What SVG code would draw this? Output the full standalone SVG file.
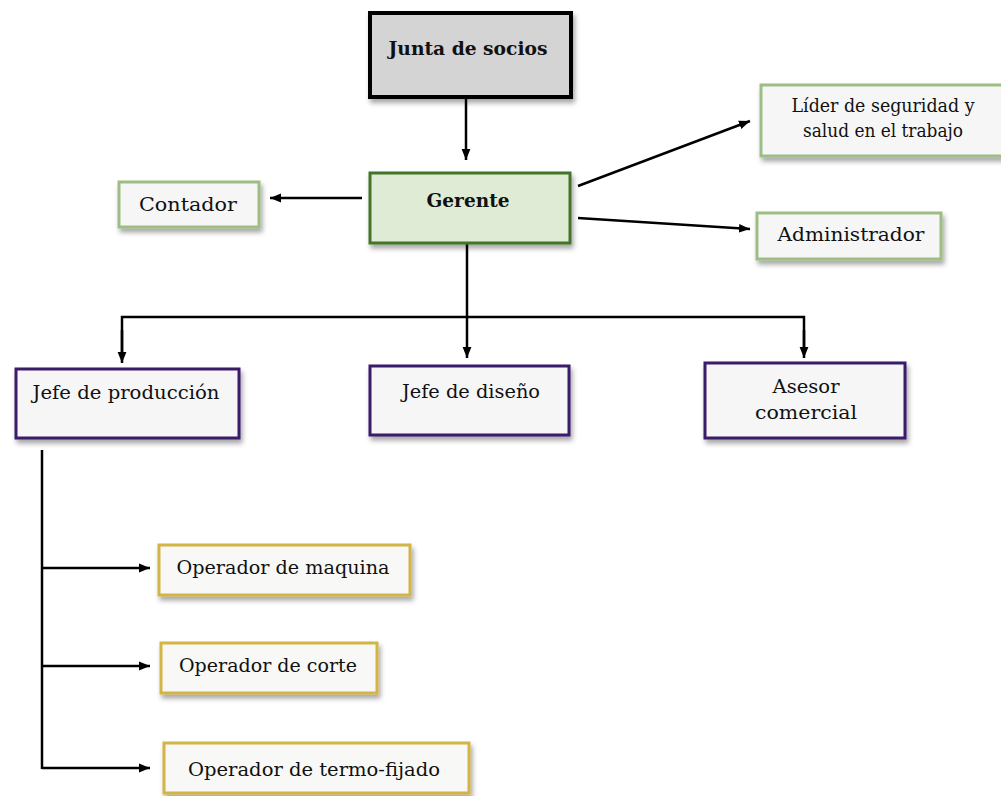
<svg xmlns="http://www.w3.org/2000/svg" width="1001" height="796" viewBox="0 0 1001 796">
<defs>
<filter id="sh" x="-10%" y="-20%" width="130%" height="160%">
<feDropShadow dx="2" dy="4" stdDeviation="2.5" flood-color="#000" flood-opacity="0.35"/>
</filter>
<marker id="ah" viewBox="0 0 10 10" refX="10" refY="5" markerWidth="11" markerHeight="11" markerUnits="userSpaceOnUse" orient="auto">
<path d="M0,1 L10,5 L0,9 Z" fill="#000"/>
</marker>
<style>
.box{filter:url(#sh);stroke-width:3}
.t{font-family:"DejaVu Serif","Liberation Serif",serif;font-size:19px;fill:#111;text-anchor:middle}
.b{font-weight:bold}
.c{fill:none;stroke:#000;stroke-width:2.5}
.a{marker-end:url(#ah)}
.blk{fill:#d4d4d4;stroke:#000;stroke-width:4}
.grn{fill:#dfebd5;stroke:#43752a}
.lgr{fill:#f6f6f6;stroke:#9dbd85}
.pur{fill:#f6f6f6;stroke:#3a1c6a}
.gld{fill:#f8f8f6;stroke:#d2b447}
</style>
</defs>
<rect width="1001" height="796" fill="#fff"/>
<g id="connectors">
<line class="c a" x1="466" y1="97" x2="466" y2="160"/>
<line class="c a" x1="362" y1="198" x2="270" y2="198"/>
<line class="c a" x1="578" y1="186" x2="750" y2="121"/>
<line class="c a" x1="578" y1="218" x2="750" y2="229"/>
<line class="c a" x1="467" y1="243" x2="467" y2="358"/>
<polyline class="c" points="122,352 122,317 804,317 804,348"/>
<line class="c a" x1="122" y1="330" x2="122" y2="363"/>
<line class="c a" x1="804" y1="330" x2="804" y2="358"/>
<line class="c" x1="42" y1="450" x2="42" y2="769"/>
<line class="c a" x1="42" y1="568" x2="150" y2="568"/>
<line class="c a" x1="42" y1="666" x2="150" y2="666"/>
<line class="c a" x1="42" y1="768" x2="150" y2="768"/>
</g>
<g id="junta">
<rect class="box blk" x="370" y="13" width="201" height="84"/>
<text class="t b" x="468" y="55" textLength="159" lengthAdjust="spacingAndGlyphs">Junta de socios</text>
</g>
<g id="gerente">
<rect class="box grn" x="370" y="173" width="200" height="70"/>
<text class="t b" x="468" y="207" textLength="83" lengthAdjust="spacingAndGlyphs">Gerente</text>
</g>
<g id="contador">
<rect class="box lgr" x="119" y="182" width="140" height="45"/>
<text class="t" x="188" y="211" textLength="98" lengthAdjust="spacingAndGlyphs">Contador</text>
</g>
<g id="lider">
<rect class="box lgr" x="761" y="85" width="245" height="71"/>
<text class="t" x="883" y="112" textLength="183" lengthAdjust="spacingAndGlyphs">Líder de seguridad y</text>
<text class="t" x="883" y="137" textLength="160" lengthAdjust="spacingAndGlyphs">salud en el trabajo</text>
</g>
<g id="administrador">
<rect class="box lgr" x="757" y="213" width="184" height="46"/>
<text class="t" x="851" y="241" textLength="147" lengthAdjust="spacingAndGlyphs">Administrador</text>
</g>
<g id="jefe-produccion">
<rect class="box pur" x="16" y="369" width="223" height="69"/>
<text class="t" x="126" y="399" textLength="187" lengthAdjust="spacingAndGlyphs">Jefe de producción</text>
</g>
<g id="jefe-diseno">
<rect class="box pur" x="370" y="366" width="199" height="69"/>
<text class="t" x="471" y="398" textLength="138" lengthAdjust="spacingAndGlyphs">Jefe de diseño</text>
</g>
<g id="asesor">
<rect class="box pur" x="705" y="363" width="200" height="75"/>
<text class="t" x="806" y="393" textLength="67" lengthAdjust="spacingAndGlyphs">Asesor</text>
<text class="t" x="806" y="419" textLength="102" lengthAdjust="spacingAndGlyphs">comercial</text>
</g>
<g id="op-maquina">
<rect class="box gld" x="159" y="545" width="251" height="50"/>
<text class="t" x="283" y="574" textLength="213" lengthAdjust="spacingAndGlyphs">Operador de maquina</text>
</g>
<g id="op-corte">
<rect class="box gld" x="161" y="643" width="216" height="50"/>
<text class="t" x="268" y="672" textLength="178" lengthAdjust="spacingAndGlyphs">Operador de corte</text>
</g>
<g id="op-termo">
<rect class="box gld" x="164" y="743" width="305" height="50"/>
<text class="t" x="314" y="776" textLength="252" lengthAdjust="spacingAndGlyphs">Operador de termo-fijado</text>
</g>
</svg>
